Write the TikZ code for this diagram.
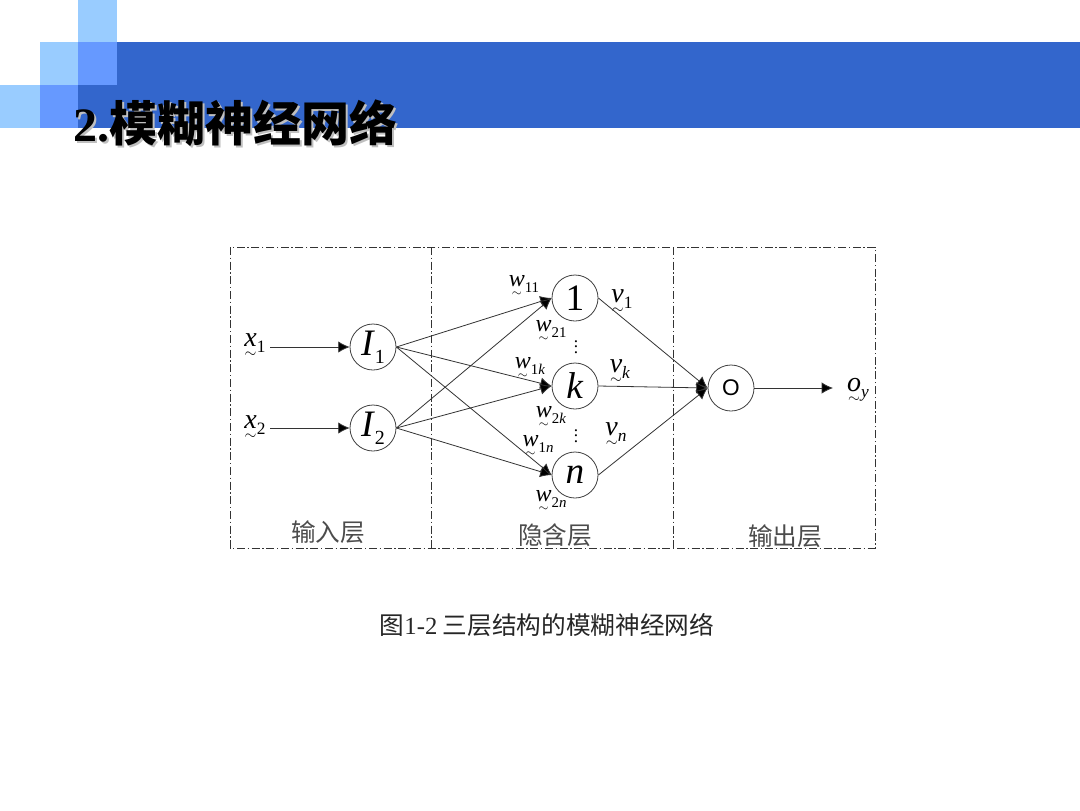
\documentclass[tikz,border=0pt]{standalone}
\usepackage{fontspec}
\usepackage{graphicx}
\setmainfont{Liberation Serif}
\newfontfamily\cjk{Noto Sans CJK SC}
\newfontfamily\sansO{Liberation Sans}
\usetikzlibrary{arrows.meta}
\newcommand{\fz}[2]{\ooalign{\textit{#1}\cr\hidewidth\smash{\raisebox{-0.40em}{\scalebox{0.55}{$\sim$}}}\hidewidth\cr}\raisebox{-0.22em}{\scalebox{0.62}{#2}}}
\definecolor{bardark}{HTML}{3366CC}
\definecolor{barmid}{HTML}{6699FF}
\definecolor{barlight}{HTML}{99CCFF}
\begin{document}
\begin{tikzpicture}[x=0.75pt,y=-0.75pt,
  neuron/.style={circle,draw=black!75,line width=0.6pt,minimum size=34.5pt,inner sep=0pt},
  edge/.style={draw=black!80,line width=0.6pt,-{Latex[length=8.5pt,width=8.5pt,fill=black]}},
  frame/.style={draw=black!80,line width=0.6pt,dash pattern=on 6pt off 2pt on 1pt off 2pt},
  wlab/.style={inner sep=0pt,font=\fontsize{18}{18}\selectfont},
  vlab/.style={inner sep=0pt,font=\fontsize{21}{21}\selectfont},
  layerlab/.style={inner sep=0pt,font=\cjk\fontsize{18.5}{18.5}\selectfont,text=black!70},
  dotslab/.style={inner sep=0pt,font=\fontsize{13}{13}\selectfont}]
\useasboundingbox (0,0) rectangle (1080,810);
\fill[white] (0,0) rectangle (1080,810);
% header decoration
\fill[barlight] (78,0) rectangle (117,42);
\fill[barlight] (40,42) rectangle (78,85);
\fill[barmid] (78,42) rectangle (117,85);
\fill[barlight] (0,85) rectangle (40,128);
\fill[barmid] (40,85) rectangle (78,128);
\fill[bardark] (117,42) rectangle (1080,128);
\fill[bardark] (78,85) rectangle (117,128);
% title
\node[anchor=west,inner sep=0pt,text=black!25,font=\fontsize{36}{36}\selectfont] (titleshadow) at (75,125) {\textbf{2.}{\cjk\bfseries 模糊神经网络}};
\node[anchor=west,inner sep=0pt,font=\fontsize{36}{36}\selectfont] (title) at (73,123) {\textbf{2.}{\cjk\bfseries 模糊神经网络}};
% frame
\draw[frame] (230,247) rectangle (875,548);
\draw[frame] (431,247) -- (431,548);
\draw[frame] (673,247) -- (673,548);
% neurons
\node[neuron,font=\fontsize{28}{28}\selectfont] (I1) at (373,347) {\textit{I}\raisebox{-6pt}{\fontsize{15}{15}\selectfont 1}};
\node[neuron,font=\fontsize{28}{28}\selectfont] (I2) at (373,428) {\textit{I}\raisebox{-6pt}{\fontsize{15}{15}\selectfont 2}};
\node[neuron,font=\fontsize{28}{28}\selectfont] (h1) at (575,298) {1};
\node[neuron,font=\fontsize{28}{28}\selectfont] (hk) at (575,386) {\textit{k}};
\node[neuron,font=\fontsize{28}{28}\selectfont] (hn) at (575,475) {\textit{n}};
\node[neuron,font=\sansO\fontsize{17}{17}\selectfont] (O) at (731,388) {O};
% inputs / outputs
\coordinate (in1) at (270,347);
\coordinate (in2) at (270,428);
\coordinate (out) at (833,388);
\node[vlab] (x1) at (255,343) {\fz{x}{1}};
\node[vlab] (x2) at (255,425) {\fz{x}{2}};
\node[vlab] (oy) at (858,390) {\fz{o}{\textit{y}}};
\draw[edge] (in1) -- (I1.west);
\draw[edge] (in2) -- (I2.west);
\draw[edge] (O.east) -- (out);
% input-hidden edges
\foreach \s in {I1,I2}{
  \foreach \t in {h1,hk,hn}{
    \draw[edge] (\s.east) -- (\t.west);
  }
}
% hidden-output edges
\foreach \s in {h1,hk,hn}{
  \draw[edge] (\s.east) -- (O.west);
}
% weight labels
\node[wlab] (w11) at (524,284) {\fz{w}{11}};
\node[wlab] (w21) at (551,329) {\fz{w}{21}};
\node[wlab] (w1k) at (530,366) {\fz{w}{1\textit{k}}};
\node[wlab] (w2k) at (551,415) {\fz{w}{2\textit{k}}};
\node[wlab] (w1n) at (538,444) {\fz{w}{1\textit{n}}};
\node[wlab] (w2n) at (551,499) {\fz{w}{2\textit{n}}};
\node[vlab] (v1) at (622,299) {\fz{v}{1}};
\node[vlab] (vk) at (620,369) {\fz{v}{\textit{k}}};
\node[vlab] (vn) at (616,432) {\fz{v}{\textit{n}}};
\node[dotslab] (d1) at (576,343) {\vdots};
\node[dotslab] (d2) at (576,432) {\vdots};
% layer labels
\node[layerlab] (L1) at (328,532) {输入层};
\node[layerlab] (L2) at (555,535) {隐含层};
\node[layerlab] (L3) at (785,536) {输出层};
% caption
\node[inner sep=0pt,font=\cjk\fontsize{18.5}{18.5}\selectfont,text=black!85] (cap) at (547,625) {图{\rmfamily 1-2} 三层结构的模糊神经网络};
\end{tikzpicture}
\end{document}
